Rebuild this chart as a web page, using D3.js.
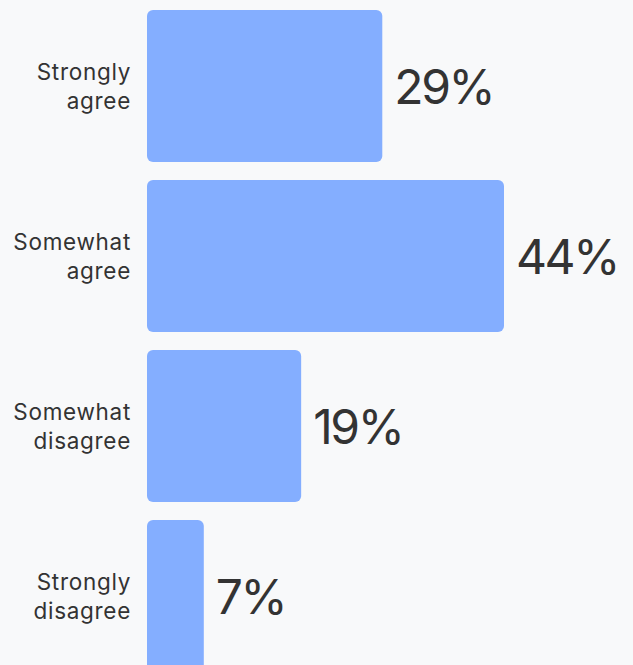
<!DOCTYPE html>
<html>
<head>
<meta charset="utf-8">
<script src="https://cdn.jsdelivr.net/npm/d3@7"></script>
<style>
  html, body { margin: 0; padding: 0; background: #f8f9fa; overflow: hidden; }
  svg { display: block; }
</style>
</head>
<body>
<script>
// Survey responses, share of respondents
const categories = [["Strongly", "agree"], ["Somewhat", "agree"], ["Somewhat", "disagree"], ["Strongly", "disagree"]];
const values = [29, 44, 19, 7];
const valueLabels = ["29%", "44%", "19%", "7%"];

const W = 633, H = 665;
const svg = d3.select("body").append("svg").attr("width", W).attr("height", H);
svg.append("rect").attr("width", W).attr("height", H).attr("fill", "#f8f9fa");

const x0 = 147;
const x = d3.scaleLinear().domain([0, 44]).range([x0, 504]);
const y = d3.scaleBand().domain(d3.range(values.length)).range([10, 672]).paddingInner(18 / 170).paddingOuter(0);

const g = svg.append("g");

g.selectAll("rect.bar").data(values).join("rect")
  .attr("class", "bar")
  .attr("x", x0)
  .attr("y", (d, i) => y(i))
  .attr("width", d => x(d) - x0)
  .attr("height", y.bandwidth())
  .attr("rx", 6).attr("ry", 6)
  .attr("fill", "#84aeff");

g.selectAll("text.val").data(values).join("text")
  .attr("class", "val")
  .attr("x", d => x(d) + 12)
  .attr("y", (d, i) => y(i) + y.bandwidth() / 2)
  .attr("dy", "0.37em")
  .attr("font-family", "Inter, 'Noto Sans', sans-serif")
  .attr("font-size", 48)
  .attr("letter-spacing", -2.4)
  .attr("fill", "#333333")
  .text((d, i) => valueLabels[i]);

const lab = g.selectAll("text.cat").data(categories).join("text")
  .attr("class", "cat")
  .attr("x", 131)
  .attr("y", (d, i) => y(i) + y.bandwidth() / 2)
  .attr("text-anchor", "end")
  .attr("font-family", "Inter, 'Noto Sans', sans-serif")
  .attr("font-size", 22.5)
  .attr("letter-spacing", 0.7)
  .attr("fill", "#333333");
lab.selectAll("tspan").data(d => d).join("tspan")
  .attr("x", 131)
  .attr("dy", (d, i) => i === 0 ? "-0.25em" : "1.28em")
  .text(d => d);
</script>
</body>
</html>
